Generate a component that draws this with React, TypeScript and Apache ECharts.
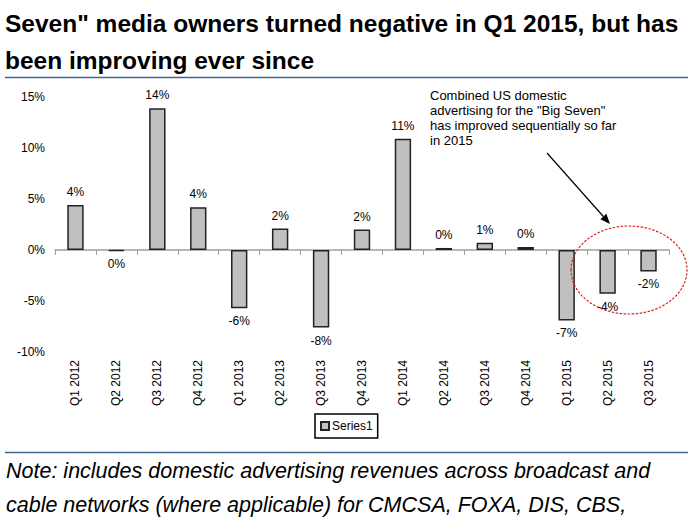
import React, { useEffect, useRef } from "react";
import * as echarts from "echarts";

const categories = [
  "Q1 2012", "Q2 2012", "Q3 2012", "Q4 2012",
  "Q1 2013", "Q2 2013", "Q3 2013", "Q4 2013",
  "Q1 2014", "Q2 2014", "Q3 2014", "Q4 2014",
  "Q1 2015", "Q2 2015", "Q3 2015",
];
const series1 = [4.4, -0.1, 13.9, 4.2, -5.7, 2.1, -7.6, 2.0, 10.9, 0.2, 0.7, 0.3, -6.9, -4.3, -2.1];
const yTicks = { min: -10, max: 15, interval: 5 };

const titleLines = [
  'Seven" media owners turned negative in Q1 2015, but has',
  "been improving ever since",
];
const annotationLines = [
  "Combined US domestic",
  'advertising for the "Big Seven"',
  "has improved sequentially so far",
  "in 2015",
];
const noteLines = [
  "Note: includes domestic advertising revenues across broadcast and",
  "cable networks (where applicable) for CMCSA, FOXA, DIS, CBS,",
];

const FONT = "'Liberation Sans', Arial, Helvetica, sans-serif";

export default function App() {
  const ref = useRef<HTMLDivElement>(null);
  useEffect(() => {
    if (!ref.current) return;
    const chart = echarts.init(ref.current, null, { renderer: "svg" });
    // arrow geometry
    const ax0 = 547, ay0 = 153, ax1 = 610, ay1 = 224;
    const dx = ax1 - ax0, dy = ay1 - ay0;
    const len = Math.sqrt(dx * dx + dy * dy);
    const ux = dx / len, uy = dy / len;
    const hl = 10, hw = 4;
    const bx = ax1 - ux * hl, by = ay1 - uy * hl;
    const px = -uy * hw, py = ux * hw;

    chart.setOption({
      animation: false,
      backgroundColor: "#fff",
      textStyle: { fontFamily: FONT },
      grid: { left: 55, right: 31, top: 97, bottom: 173, outerBoundsMode: "none" },
      legend: {
        left: 315,
        top: 414,
        data: ["Series1"],
        icon: "rect",
        itemWidth: 8,
        itemHeight: 8,
        itemGap: 4,
        padding: [6, 5, 6, 5],
        borderColor: "#000",
        borderWidth: 1.5,
        textStyle: { fontSize: 12, color: "#000", fontFamily: FONT, padding: [0, 0, 0, -2] },
      },
      xAxis: {
        type: "category",
        data: categories,
        axisLine: { lineStyle: { color: "#a0a0a0", width: 1.5 } },
        axisTick: { show: true, length: 5, lineStyle: { color: "#a0a0a0" } },
        axisLabel: { rotate: 90, fontSize: 12, color: "#000", margin: 8, fontFamily: FONT },
        splitLine: { show: false },
      },
      yAxis: {
        type: "value",
        min: yTicks.min,
        max: yTicks.max,
        interval: yTicks.interval,
        axisLine: { show: false },
        axisTick: { show: false },
        splitLine: { show: false },
        axisLabel: {
          fontSize: 12,
          color: "#000",
          margin: 10,
          fontFamily: FONT,
          formatter: (v: number) => `${v}%`,
        },
      },
      series: [
        {
          name: "Series1",
          type: "bar",
          barWidth: "40%",
          data: series1.map((v) => ({
            value: v,
            label: { position: v >= 0 ? "top" : "bottom" },
          })),
          itemStyle: { color: "#c0c0c0", borderColor: "#222", borderWidth: 1.5 },
          label: {
            show: true,
            distance: 7,
            fontSize: 12,
            color: "#000",
            fontFamily: FONT,
            formatter: (p: any) => `${Math.round(p.value) === 0 ? 0 : Math.round(p.value)}%`,
          },
        },
      ],
      graphic: [
        ...titleLines.map((t, i) => ({
          type: "text",
          left: 5,
          top: 11 + i * 37,
          style: { text: t, font: `bold 24.5px ${FONT}`, fill: "#000" },
        })),
        {
          type: "line",
          shape: { x1: 5, y1: 77.5, x2: 688, y2: 77.5 },
          style: { stroke: "#3f6590", lineWidth: 1.5 },
        },
        ...annotationLines.map((t, i) => ({
          type: "text",
          left: 430,
          top: 89 + i * 15,
          style: { text: t, font: `13px ${FONT}`, fill: "#000" },
        })),
        {
          type: "line",
          shape: { x1: ax0, y1: ay0, x2: bx, y2: by },
          style: { stroke: "#000", lineWidth: 1.2 },
        },
        {
          type: "polygon",
          shape: { points: [[ax1, ay1], [bx + px, by + py], [bx - px, by - py]] },
          style: { fill: "#000" },
        },
        {
          type: "ellipse",
          shape: { cx: 629, cy: 270, rx: 58, ry: 44 },
          style: { fill: "none", stroke: "#e02020", lineWidth: 1.2, lineDash: [2.5, 1.5] },
          z: 100,
        },
        {
          type: "line",
          shape: { x1: 5, y1: 452.5, x2: 688, y2: 452.5 },
          style: { stroke: "#3f6590", lineWidth: 1.5 },
        },
        ...noteLines.map((t, i) => ({
          type: "text",
          left: 6,
          top: 460 + i * 34,
          style: { text: t, font: `italic 21.5px ${FONT}`, fill: "#000" },
        })),
      ],
    });
    return () => chart.dispose();
  }, []);
  return (
    <div
      ref={ref}
      style={{ position: "fixed", left: 0, top: 0, width: 700, height: 525, background: "#fff" }}
    />
  );
}
